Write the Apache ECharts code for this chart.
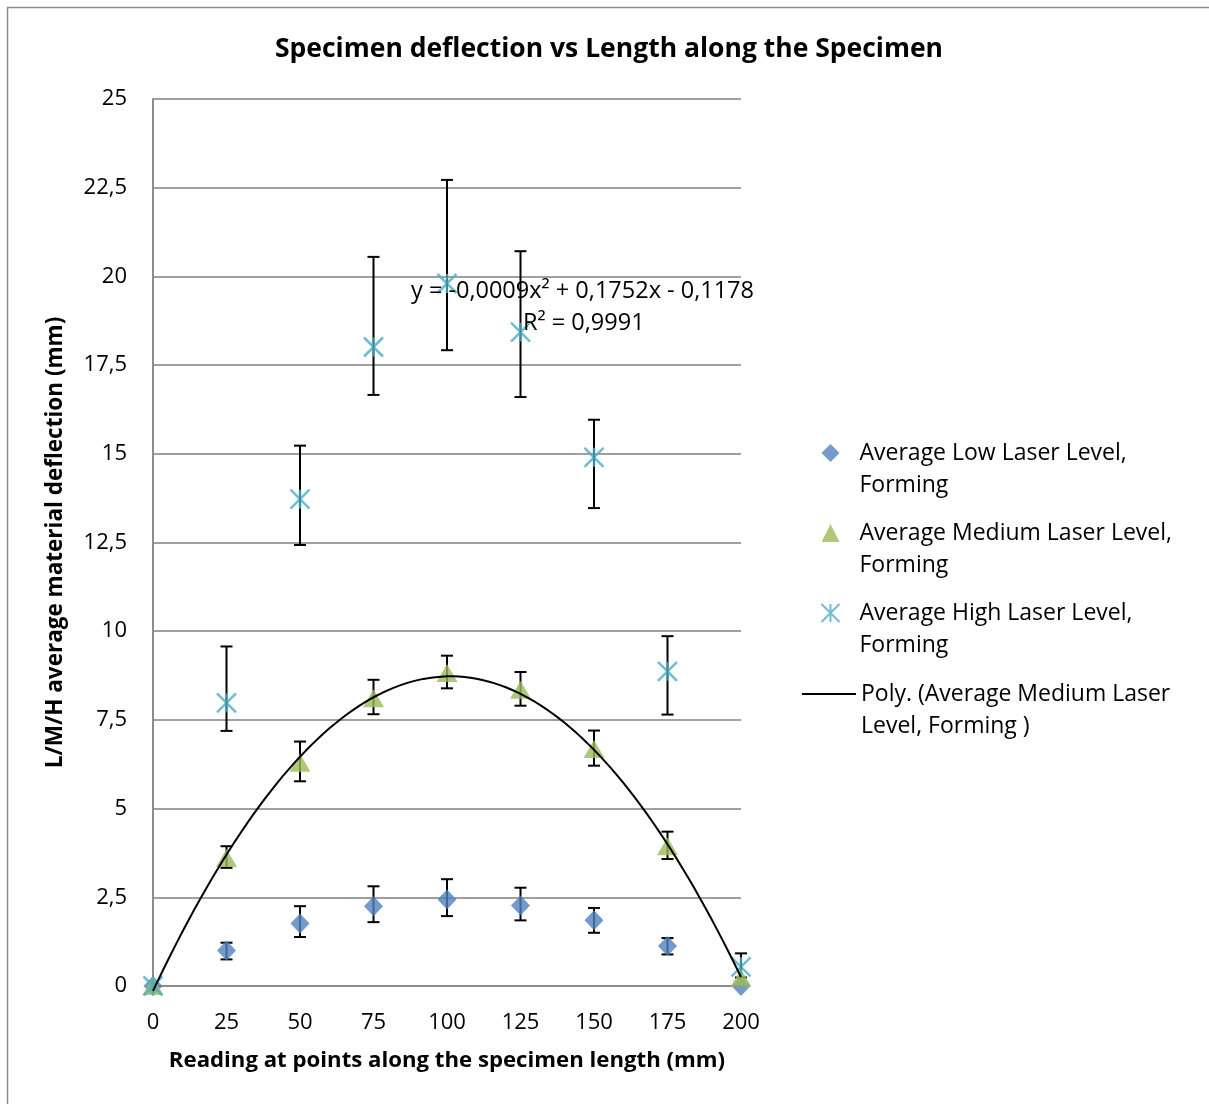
<!DOCTYPE html>
<html>
<head>
<meta charset="utf-8">
<script src="https://cdn.jsdelivr.net/npm/echarts@6/dist/echarts.min.js"></script>
<style>
  html, body { margin: 0; padding: 0; background: #fff; }
  #chart { width: 1209px; height: 1104px; }
</style>
</head>
<body>
<div id="chart"></div>
<script>
// Reading positions along the specimen (mm)
const positions = [0, 25, 50, 75, 100, 125, 150, 175, 200];

// Average deflection (mm) per laser level, with error bar extents above / below
const lowValues  = [0, 1.00, 1.76, 2.25, 2.44, 2.27, 1.85, 1.13, 0.00];
const lowPlus    = [0, 0.22, 0.49, 0.56, 0.57, 0.50, 0.35, 0.22, 0];
const lowMinus   = [0, 0.25, 0.38, 0.45, 0.47, 0.42, 0.35, 0.24, 0];

const medValues  = [0, 3.61, 6.29, 8.11, 8.82, 8.35, 6.68, 3.94, 0.23];
const medPlus    = [0, 0.33, 0.60, 0.52, 0.49, 0.50, 0.52, 0.41, 0];
const medMinus   = [0, 0.28, 0.52, 0.45, 0.43, 0.45, 0.47, 0.36, 0];

const highValues = [0, 7.98, 13.72, 18.01, 19.80, 18.43, 14.90, 8.87, 0.54];
const highPlus   = [0, 1.59, 1.51, 2.54, 2.92, 2.28, 1.06, 0.99, 0.38];
const highMinus  = [0, 0.79, 1.29, 1.35, 1.88, 1.83, 1.43, 1.22, 0.30];

const seriesNames = [
  'Average Low Laser Level,\nForming',
  'Average Medium Laser Level,\nForming',
  'Average High Laser Level,\nForming'
];
const trendName = 'Poly. (Average Medium Laser\nLevel, Forming )';
const equationText = 'y = -0,0009x² + 0,1752x - 0,1178';
const rSquaredText = 'R² = 0,9991';

const yTicks = { min: 0, max: 25, step: 2.5 };
const xTicks = { min: 0, max: 200, step: 25 };

const FONT = '"Open Sans", Lato, sans-serif';
const COLORS = ['#4F81BD', '#9BBB59', '#4BACC6'];

// Least-squares quadratic trend line through the medium-level averages
function quadFit(xs, ys) {
  let s = [0, 0, 0, 0, 0], t = [0, 0, 0];
  for (let i = 0; i < xs.length; i++) {
    let p = 1;
    for (let k = 0; k < 5; k++) { s[k] += p; if (k < 3) t[k] += p * ys[i]; p *= xs[i]; }
  }
  const M = [[s[0], s[1], s[2], t[0]], [s[1], s[2], s[3], t[1]], [s[2], s[3], s[4], t[2]]];
  for (let c = 0; c < 3; c++) {
    for (let r = c + 1; r < 3; r++) {
      const f = M[r][c] / M[c][c];
      for (let k = c; k < 4; k++) M[r][k] -= f * M[c][k];
    }
  }
  const sol = [0, 0, 0];
  for (let r = 2; r >= 0; r--) {
    let v = M[r][3];
    for (let k = r + 1; k < 3; k++) v -= M[r][k] * sol[k];
    sol[r] = v / M[r][r];
  }
  return sol; // [c, b, a]
}
const coef = quadFit(positions, medValues);
const trendData = [];
for (let x = xTicks.min; x <= xTicks.max; x += 2) {
  trendData.push([x, coef[0] + coef[1] * x + coef[2] * x * x]);
}

const pairs = (vals) => positions.map((x, i) => [x, vals[i]]);
const errRows = (vals, plus, minus) => positions.map((x, i) => [x, vals[i], plus[i], minus[i]]);

function renderErrorBar(params, api) {
  const x = api.value(0), y = api.value(1), up = api.value(2), dn = api.value(3);
  if (!up && !dn) return null;
  const top = api.coord([x, y + up]);
  const bot = api.coord([x, y - dn]);
  const half = 6;
  const st = { stroke: '#000', lineWidth: 2 };
  return {
    type: 'group',
    children: [
      { type: 'line', shape: { x1: top[0], y1: top[1], x2: bot[0], y2: bot[1] }, style: st },
      { type: 'line', shape: { x1: top[0] - half, y1: top[1], x2: top[0] + half, y2: top[1] }, style: st },
      { type: 'line', shape: { x1: bot[0] - half, y1: bot[1], x2: bot[0] + half, y2: bot[1] }, style: st }
    ]
  };
}

const asteriskPath = 'path://M0,0L20,20M20,0L0,20M10,0L10,20';

const chart = echarts.init(document.getElementById('chart'), null, { renderer: 'canvas' });

// Legend labels: a leading blank line keeps the symbol level with the first text line
const legendText = {
  fontFamily: FONT, fontSize: 23, color: '#000', lineHeight: 32
};
const legendFormatter = (name) => '\n' + name;

chart.setOption({
  backgroundColor: '#fff',
  animation: false,
  title: {
    text: 'Specimen deflection vs Length along the Specimen',
    left: 604, top: 31, textAlign: 'center',
    textStyle: { fontFamily: FONT, fontSize: 26.5, fontWeight: 'bold', color: '#000' }
  },
  grid: { left: 153, top: 99, right: 468, bottom: 118 },
  legend: [
    {
      orient: 'vertical', left: 819, top: 405, padding: 0, itemGap: -16,
      itemWidth: 18, itemHeight: 18,
      data: seriesNames,
      formatter: legendFormatter,
      textStyle: Object.assign({}, legendText, { padding: [0, 0, 0, 15] })
    },
    {
      orient: 'vertical', left: 802, top: 646, padding: 0,
      itemWidth: 54, itemHeight: 2,
      data: [{ name: trendName, icon: 'rect', itemStyle: { color: '#000' } }],
      formatter: legendFormatter,
      textStyle: Object.assign({}, legendText)
    }
  ],
  xAxis: {
    type: 'value', min: xTicks.min, max: xTicks.max, interval: xTicks.step,
    name: 'Reading at points along the specimen length (mm)',
    nameLocation: 'middle', nameGap: 64,
    nameTextStyle: { fontFamily: FONT, fontSize: 22.2, fontWeight: 'bold', color: '#000' },
    axisLine: { show: true, onZero: false, lineStyle: { color: '#8c8c8c', width: 2 } },
    axisTick: { show: false },
    splitLine: { show: false },
    axisLabel: { fontFamily: FONT, fontSize: 22, color: '#000', margin: 26 }
  },
  yAxis: {
    type: 'value', min: yTicks.min, max: yTicks.max, interval: yTicks.step,
    name: 'L/M/H average material deflection (mm)',
    nameLocation: 'middle', nameGap: 86,
    nameTextStyle: { fontFamily: FONT, fontSize: 22.5, fontWeight: 'bold', color: '#000' },
    axisLine: { show: true, lineStyle: { color: '#8c8c8c', width: 2 } },
    axisTick: { show: false },
    splitLine: { show: true, lineStyle: { color: '#a0a0a0', width: 2 } },
    axisLabel: {
      fontFamily: FONT, fontSize: 22, color: '#000', margin: 26,
      padding: [3, 0, 0, 0],
      formatter: (v) => String(v).replace('.', ',')
    }
  },
  graphic: [
    {
      type: 'rect', silent: true, z: -1,
      shape: { x: 7.5, y: 7.5, width: 1400, height: 1300 },
      style: { fill: 'none', stroke: '#8c8c8c', lineWidth: 1.5 }
    },
    {
      type: 'text', left: 411, top: 279, z: 100,
      style: { text: equationText, fontFamily: FONT, fontSize: 23.5, fill: '#000' }
    },
    {
      type: 'text', left: 523, top: 311, z: 100,
      style: { text: rSquaredText, fontFamily: FONT, fontSize: 23.5, fill: '#000' }
    }
  ],
  series: [
    { type: 'custom', name: 'errLow', renderItem: renderErrorBar, data: errRows(lowValues, lowPlus, lowMinus), z: 2, clip: false },
    { type: 'custom', name: 'errMed', renderItem: renderErrorBar, data: errRows(medValues, medPlus, medMinus), z: 2, clip: false },
    { type: 'custom', name: 'errHigh', renderItem: renderErrorBar, data: errRows(highValues, highPlus, highMinus), z: 2, clip: false },
    {
      type: 'scatter', name: seriesNames[0], data: pairs(lowValues), z: 3, clip: false,
      symbol: 'diamond', symbolSize: [19, 20],
      itemStyle: { color: COLORS[0] }
    },
    {
      type: 'scatter', name: seriesNames[1], data: pairs(medValues), z: 4, clip: false,
      symbol: 'triangle', symbolSize: [21, 18],
      itemStyle: { color: COLORS[1] }
    },
    {
      type: 'scatter', name: seriesNames[2], data: pairs(highValues), z: 5, clip: false,
      symbol: asteriskPath, symbolSize: [19, 19],
      itemStyle: { color: 'none', borderColor: COLORS[2], borderWidth: 2.5 }
    },
    {
      type: 'line', name: trendName, data: trendData, z: 6, clip: false,
      showSymbol: false, symbol: 'none', smooth: false,
      lineStyle: { color: '#000', width: 2 },
      itemStyle: { color: '#000' }
    }
  ]
});
</script>
</body>
</html>
